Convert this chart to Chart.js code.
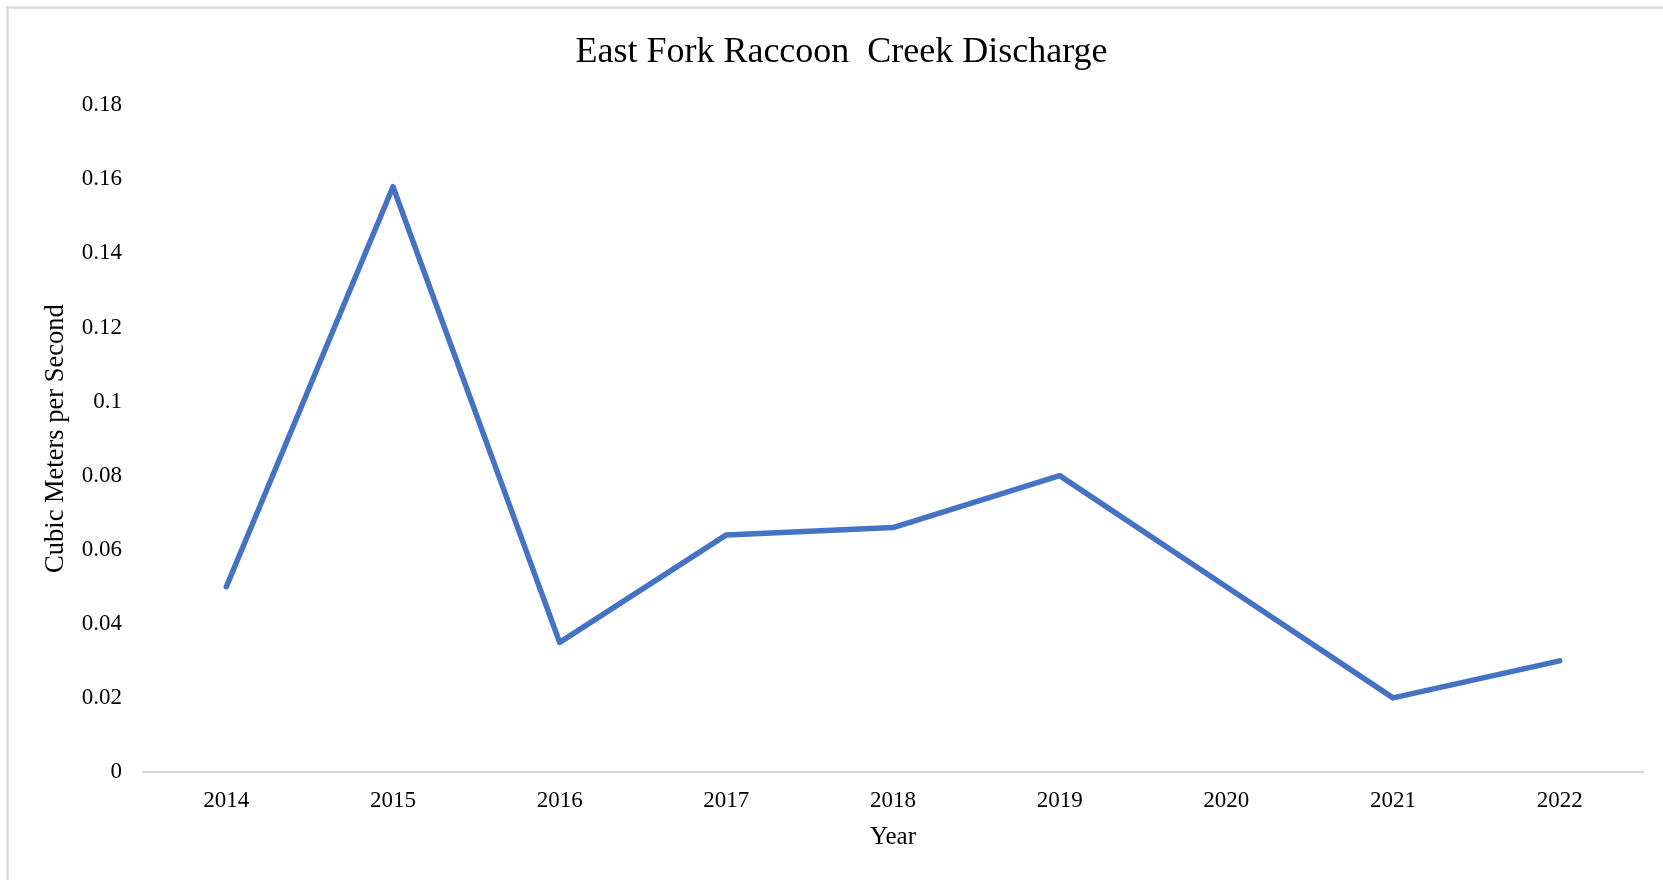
<!DOCTYPE html>
<html>
<head>
<meta charset="utf-8">
<script src="https://cdn.jsdelivr.net/npm/chart.js@4.4.1/dist/chart.umd.min.js"></script>
<style>
  html, body { margin: 0; padding: 0; background: #fff; }
  #wrap { width: 1663px; height: 880px; position: relative; }
</style>
</head>
<body>
<div id="wrap"><canvas id="dischargeChart"></canvas></div>
<script>
// Data
const years = ['2014', '2015', '2016', '2017', '2018', '2019', '2020', '2021', '2022'];
const discharge = [0.05, 0.158, 0.035, 0.064, 0.066, 0.08, 0.05, 0.02, 0.03];
const yTicks = [0, 0.02, 0.04, 0.06, 0.08, 0.1, 0.12, 0.14, 0.16, 0.18];

const serif = "'Liberation Serif', 'Times New Roman', serif";

// light gray frame on top and left edge, like the source picture
const framePlugin = {
    id: 'frame',
    beforeDraw(chart) {
        const c = chart.ctx;
        c.save();
        c.fillStyle = '#fff';
        c.fillRect(0, 0, chart.width, chart.height);
        c.strokeStyle = '#d9d9d9';
        c.lineWidth = 2.5;
        c.beginPath();
        c.moveTo(7.5, chart.height);
        c.lineTo(7.5, 7.5);
        c.lineTo(chart.width, 7.5);
        c.stroke();
        c.restore();
    }
};

const ctx = document.getElementById('dischargeChart').getContext('2d');
const chart = new Chart(ctx, {
    type: 'line',
    data: {
        labels: years,
        datasets: [{
            label: 'Discharge',
            data: discharge,
            borderColor: '#4472C4',
            borderWidth: 5.5,
            pointRadius: 0,
            tension: 0,
            borderCapStyle: 'round',
            borderJoinStyle: 'round'
        }]
    },
    options: {
        responsive: true,
        maintainAspectRatio: false,
        animation: false,
        layout: {
            padding: { left: 40, right: 20, top: 0, bottom: 0 }
        },
        plugins: {
            legend: { display: false },
            tooltip: { enabled: false },
            title: {
                display: true,
                text: 'East Fork Raccoon  Creek Discharge',
                color: '#000',
                font: { family: serif, size: 36, weight: 'normal' },
                padding: { top: 31, bottom: 31 }
            }
        },
        scales: {
            x: {
                offset: true,
                grid: { display: false, drawTicks: false },
                border: { display: true, color: '#d9d9d9', width: 2 },
                ticks: {
                    color: '#000',
                    font: { family: serif, size: 23 },
                    padding: 15,
                    maxRotation: 0
                },
                title: {
                    display: true,
                    text: 'Year',
                    color: '#000',
                    font: { family: serif, size: 25 },
                    padding: { top: 0, bottom: 28 }
                },
                afterFit(scale) { scale.height = 108; }
            },
            y: {
                min: 0,
                max: 0.18,
                grid: { display: false, drawTicks: false },
                border: { display: false },
                afterBuildTicks(scale) {
                    scale.ticks = yTicks.map(v => ({ value: v }));
                },
                ticks: {
                    color: '#000',
                    font: { family: serif, size: 23 },
                    padding: 21,
                    callback: v => String(Math.round(v * 100) / 100)
                },
                title: {
                    display: true,
                    text: 'Cubic Meters per Second',
                    color: '#000',
                    font: { family: serif, size: 26.5 },
                    padding: { top: 0, bottom: 0 }
                },
                afterFit(scale) { scale.width = 103; }
            }
        }
    },
    plugins: [framePlugin]
});
</script>
</body>
</html>
